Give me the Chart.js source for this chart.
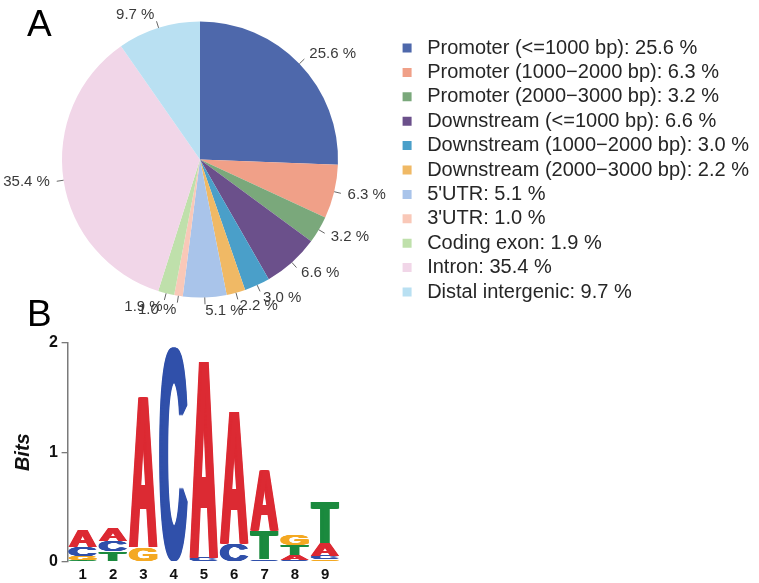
<!DOCTYPE html>
<html>
<head>
<meta charset="utf-8">
<script src="https://cdn.jsdelivr.net/npm/chart.js@4/dist/chart.umd.min.js"></script>
<style>
  body { margin: 0; background: #fff; }
  #wrap { position: relative; width: 759px; height: 583px; overflow: hidden; }
  canvas { position: absolute; left: 0; }
  .panel {
    position: absolute;
    font-family: "Liberation Sans Narrow", "Liberation Sans", Arial, sans-serif;
    font-size: 37px;
    line-height: 1;
    color: #000;
  }
</style>
</head>
<body>
<div id="wrap">
  <canvas id="myPieChart" width="759" height="330" style="top:0"></canvas>
  <canvas id="myLogoChart" width="360" height="263" style="top:320px"></canvas>
  <div class="panel" style="left:27px; top:5px">A</div>
  <div class="panel" style="left:27px; top:295px">B</div>
</div>
<script>
// ---- Panel A data: genomic annotation of peaks ----
const regions = [
  "Promoter (<=1000 bp)",
  "Promoter (1000\u22122000 bp)",
  "Promoter (2000\u22123000 bp)",
  "Downstream (<=1000 bp)",
  "Downstream (1000\u22122000 bp)",
  "Downstream (2000\u22123000 bp)",
  "5'UTR",
  "3'UTR",
  "Coding exon",
  "Intron",
  "Distal intergenic",
];
const percents = [25.6, 6.3, 3.2, 6.6, 3.0, 2.2, 5.1, 1.0, 1.9, 35.4, 9.7];
const regionColors = [
  "#4e68ab", // Promoter <=1000
  "#f0a088", // Promoter 1000-2000
  "#7aa87b", // Promoter 2000-3000
  "#6b508b", // Downstream <=1000
  "#4a9fc9", // Downstream 1000-2000
  "#f0b965", // Downstream 2000-3000
  "#a9c4ea", // 5'UTR
  "#f9c8b8", // 3'UTR
  "#bfe0ab", // Coding exon
  "#f1d6e8", // Intron
  "#b9e0f2", // Distal intergenic
];

// ---- Panel B data: motif logo (bits per letter per position) ----
const positions = ["1", "2", "3", "4", "5", "6", "7", "8", "9"];
const bitsA = [0.15, 0.12, 1.39, 0, 1.82, 1.22, 0.56, 0.05, 0.115];
const bitsC = [0.08, 0.09, 0, 1.96, 0.035, 0.16, 0.015, 0.015, 0.035];
const bitsG = [0.04, 0.01, 0.13, 0, 0, 0, 0.01, 0.095, 0.02];
const bitsT = [0.015, 0.085, 0, 0, 0, 0, 0.26, 0.09, 0.38];
const bitsTicks = [0, 1, 2];
const letterColors = { A: "#dc2a33", C: "#3050aa", G: "#f4a923", T: "#1b8a3e" };

Chart.defaults.font.family = '"Liberation Sans", Arial, sans-serif';
Chart.defaults.animation = false;

// draws "25.6 %" style labels outside the pie with a short tick (like R's pie())
const pieLabels = {
  id: "pieLabels",
  afterDatasetsDraw: (chart) => {
    const ctx = chart.ctx;
    const meta = chart.getDatasetMeta(0);
    ctx.save();
    ctx.font = '15px "Liberation Sans", Arial, sans-serif';
    ctx.textBaseline = "middle";
    ctx.strokeStyle = "#666";
    ctx.fillStyle = "#3a3a3a";
    ctx.lineWidth = 1;
    meta.data.forEach((arc, i) => {
      const { x, y, startAngle, endAngle, outerRadius } = arc.getProps(
        ["x", "y", "startAngle", "endAngle", "outerRadius"],
        true
      );
      const mid = (startAngle + endAngle) / 2;
      const cos = Math.cos(mid);
      const sin = Math.sin(mid);
      ctx.beginPath();
      ctx.moveTo(x + cos * outerRadius, y + sin * outerRadius);
      ctx.lineTo(x + cos * outerRadius * 1.05, y + sin * outerRadius * 1.05);
      ctx.stroke();
      ctx.textAlign = cos < 0 ? "right" : "left";
      ctx.fillText(
        percents[i].toFixed(1) + " %",
        x + cos * outerRadius * 1.1,
        y + sin * outerRadius * 1.1
      );
    });
    ctx.restore();
  },
};

// pie chart + legend on the right
new Chart(document.querySelector("#myPieChart"), {
  type: "pie",
  data: {
    labels: regions.map((r, i) => `${r}: ${percents[i].toFixed(1)} %`),
    datasets: [
      {
        data: percents,
        backgroundColor: regionColors,
        borderWidth: 0,
        hoverOffset: 0,
      },
    ],
  },
  options: {
    responsive: false,
    radius: 138,
    layout: { padding: { left: 1.8, right: 0, top: 12.6, bottom: 23.6 } },
    plugins: {
      tooltip: { enabled: false },
      legend: {
        position: "right",
        align: "end",
        labels: {
          boxWidth: 9,
          boxHeight: 9,
          padding: 4.4,
          color: "#262626",
          font: { size: 20 },
          generateLabels: (chart) =>
            Chart.overrides.pie.plugins.legend.labels
              .generateLabels(chart)
              .map((item) => ({ ...item, text: " " + item.text })),
        },
      },
    },
  },
  plugins: [pieLabels],
});

// build the stacked layers: in each column letters are sorted small -> large (bottom -> top)
const bitsByLetter = { A: bitsA, C: bitsC, G: bitsG, T: bitsT };
const layers = [0, 1, 2, 3].map(() => ({ data: [], letters: [] }));
positions.forEach((p, i) => {
  Object.keys(bitsByLetter)
    .map((l) => ({ letter: l, bits: bitsByLetter[l][i] }))
    .sort((a, b) => a.bits - b.bits)
    .forEach((s, k) => {
      layers[k].data[i] = s.bits;
      layers[k].letters[i] = s.letter;
    });
});

// paints each letter stretched into its (invisible) stacked bar
const logoLetters = {
  id: "logoLetters",
  afterDatasetsDraw: (chart) => {
    const ctx = chart.ctx;
    ctx.save();
    ctx.font = 'bold 100px "Liberation Sans", Arial, sans-serif';
    ctx.textAlign = "left";
    ctx.textBaseline = "alphabetic";
    chart.data.datasets.forEach((ds, d) => {
      chart.getDatasetMeta(d).data.forEach((bar, i) => {
        const { x, y, base, width } = bar.getProps(["x", "y", "base", "width"], true);
        const h = base - y;
        if (h < 0.4) return;
        const letter = ds.letters[i];
        const m = ctx.measureText(letter);
        const gw = m.actualBoundingBoxLeft + m.actualBoundingBoxRight;
        const gh = m.actualBoundingBoxAscent + m.actualBoundingBoxDescent;
        // thicken vertical strokes a bit: paint a few copies side by side
        const thick = width * 0.13;
        ctx.fillStyle = letterColors[letter];
        for (let dx = 0; dx <= thick; dx += 0.5) {
          ctx.save();
          ctx.translate(x - width / 2 + dx, y);
          ctx.scale((width - thick) / gw, h / gh);
          ctx.fillText(letter, m.actualBoundingBoxLeft, m.actualBoundingBoxAscent);
          ctx.restore();
        }
      });
    });
    ctx.restore();
  },
};

new Chart(document.querySelector("#myLogoChart"), {
  type: "bar",
  data: {
    labels: positions,
    datasets: layers.map((l) => ({
      data: l.data,
      letters: l.letters,
      backgroundColor: "rgba(0,0,0,0)",
      borderWidth: 0,
      barPercentage: 0.96,
      categoryPercentage: 1,
    })),
  },
  options: {
    responsive: false,
    layout: { padding: { left: 7.6, right: 19.7, top: 22.7, bottom: 0 } },
    plugins: { legend: { display: false }, tooltip: { enabled: false } },
    scales: {
      x: {
        stacked: true,
        grid: { display: false, drawTicks: false },
        border: { display: false },
        ticks: { color: "#111", padding: 4, font: { size: 15, weight: "bold" } },
        afterFit: (scale) => {
          scale.height = 21.3;
        },
      },
      y: {
        stacked: true,
        min: 0,
        max: 2,
        afterBuildTicks: (scale) => {
          scale.ticks = bitsTicks.map((v) => ({ value: v }));
        },
        grid: { drawOnChartArea: false, drawTicks: true, tickLength: 6, color: "#7a7a7a", lineWidth: 1.3 },
        border: { display: true, color: "#7a7a7a", width: 1.5 },
        ticks: { color: "#111", padding: 3.6, font: { size: 16, weight: "bold" } },
        title: {
          display: true,
          text: "Bits",
          color: "#111",
          padding: { top: 4, bottom: 10 },
          font: { size: 20, weight: "bold", style: "italic" },
        },
        afterFit: (scale) => {
          scale.width = 60;
        },
      },
    },
  },
  plugins: [logoLetters],
});
</script>
</body>
</html>
